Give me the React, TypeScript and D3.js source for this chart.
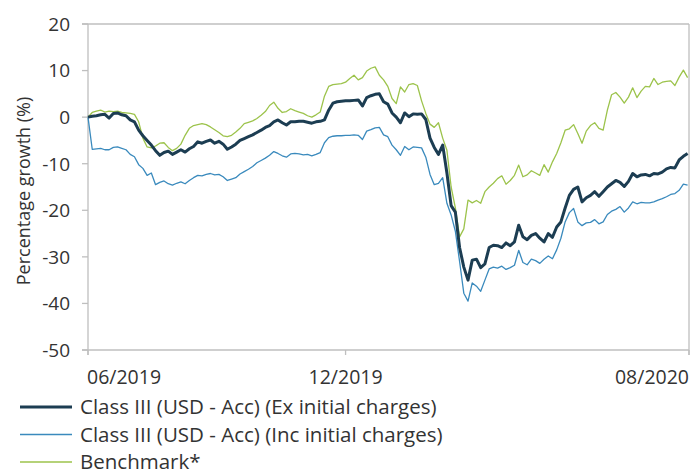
import React from "react";
import * as d3 from "d3";

// Sampling: one value every 3 days starting 1 Jun 2019
const START = new Date(2019, 5, 1);
const END = new Date(2020, 7, 1);
const STEP_DAYS = 3;

const exCharges: number[] = [
  0, 0.2, 0.3, 0.5, 0.6, -0.2, 0.8, 0.9, 0.5, 0.3,
  -0.6, -1.0, -2.8, -4.0, -5.0, -6.0, -7.2, -8.2, -7.6, -7.3,
  -8.0, -7.5, -7.0, -7.5, -6.8, -6.3, -5.3, -5.6, -5.2, -4.9,
  -5.6, -5.2, -5.8, -6.9, -6.4, -5.8, -5.0, -4.6, -4.2, -3.8,
  -3.3, -2.8, -2.2, -1.8, -1.0, -0.6, -1.2, -1.7, -1.0, -1.0,
  -0.9, -0.9, -1.1, -1.3, -1.0, -0.9, -0.6, 1.5, 3.0, 3.3,
  3.4, 3.5, 3.5, 3.6, 3.7, 2.4, 4.2, 4.6, 4.9, 5.0,
  3.3, 2.8, 0.9, 0.0, -1.2, 0.9, 0.1, 0.7, 0.6, 0.7,
  -0.5, -4.5, -6.5, -8.0, -6.0, -12.0, -19.0, -20.4, -28.0, -32.2,
  -35.0, -30.7, -30.5, -32.3, -31.5, -28.0, -27.5, -27.6, -28.0, -27.0,
  -27.6, -26.8, -23.2, -25.7, -26.3, -25.4, -25.0, -26.0, -26.8, -25.0,
  -25.8, -23.6, -22.5, -19.5, -16.8, -15.5, -15.0, -18.2, -17.3, -16.8,
  -16.0, -17.0, -16.0, -15.0, -14.3, -13.6, -14.0, -14.9, -13.8, -12.1,
  -12.8, -12.4, -12.3, -12.6, -12.1, -12.2, -11.8, -11.1, -10.8, -10.9,
  -9.2, -8.4, -7.8,
];

const incCharges: number[] = [
  0, -6.9, -6.8, -6.7, -7.0, -7.0, -6.5, -6.4, -6.7, -7.0,
  -8.0, -8.5, -10.2, -11.0, -12.5, -12.0, -14.5, -14.0, -13.7, -14.3,
  -14.6, -14.2, -13.9, -14.3, -13.6, -13.0, -12.5, -12.6, -12.3, -12.1,
  -12.4, -12.3, -12.8, -13.6, -13.3, -13.0, -12.2, -11.7, -11.2, -10.6,
  -9.8, -9.3, -8.8, -8.2, -7.4, -7.8, -8.3, -8.6, -7.9, -7.8,
  -7.9, -8.1, -8.0, -8.3, -8.0, -7.6, -5.5, -4.4, -4.1, -4.0,
  -4.0, -3.9, -3.9, -3.8, -3.9, -4.8, -3.0, -2.7, -2.3, -2.2,
  -3.8, -4.2, -6.0, -7.0, -8.2, -6.3, -7.0, -6.4, -6.5, -6.6,
  -8.6, -12.3, -14.5, -14.2, -13.0, -18.5, -21.0, -24.5, -31.0, -37.8,
  -39.5, -35.6, -36.3, -37.4, -35.0, -32.6, -32.2, -32.4, -32.0, -32.7,
  -32.3, -31.8, -28.6, -31.2, -31.7, -30.5, -30.8, -31.4, -30.5, -29.8,
  -30.4, -28.5, -26.0, -22.5, -20.5, -19.6, -22.5, -23.3, -22.7, -22.6,
  -22.0, -22.9, -22.5, -20.9, -20.2, -19.8, -19.2, -20.4, -19.5, -18.2,
  -18.6, -18.3, -18.4, -18.4, -18.2, -17.8, -17.5, -17.1, -16.6, -16.4,
  -15.7, -14.4, -14.6,
];

const benchmark: number[] = [
  0, 1.0, 1.3, 1.5, 1.1, 1.3, 1.2, 1.3, 1.0, 0.9,
  0.8, 0.6, -1.0, -4.5, -6.4, -6.6, -6.2, -5.6, -5.5, -6.5,
  -7.2, -6.7, -5.8, -3.9, -2.4, -1.8, -1.6, -1.4, -1.6, -2.1,
  -2.7, -3.3, -4.0, -4.2, -3.9, -3.2, -2.4, -1.4, -1.1, -0.8,
  -0.3, 0.4, 1.2, 2.5, 3.2, 1.9, 1.0, 1.2, 1.8, 1.4,
  1.1, 0.8, 0.3, 0.0, 0.5, 1.1, 4.5, 6.6, 7.0, 7.1,
  7.2, 7.5, 8.3, 9.0, 8.0, 8.5, 9.9, 10.5, 10.8, 9.0,
  8.0, 6.6, 4.0, 2.9, 6.5, 5.4, 7.0, 7.2, 6.8, 3.5,
  0.8, -1.5, -2.2, -1.2, -4.5, -7.1, -15.0, -19.5, -25.7, -24.0,
  -17.8, -18.4, -17.9, -18.5, -16.0, -15.0, -14.2, -13.2, -12.6, -14.4,
  -13.6, -12.5, -10.3, -12.8, -12.4, -11.5, -12.0, -12.5, -10.2, -11.8,
  -9.6, -7.8, -5.5, -2.8, -2.5, -1.6, -3.5, -5.6, -3.0, -1.8,
  -1.2, -2.4, -2.8, 1.5, 4.8, 5.3, 4.3, 3.0, 4.3, 6.3,
  4.2, 5.6, 6.6, 6.5, 8.3, 7.0, 7.5, 7.7, 7.8, 6.8,
  8.6, 10.1, 8.5,
];

const yTicks = [20, 10, 0, -10, -20, -30, -40, -50];
const xTickDates = [new Date(2019, 5, 1), new Date(2019, 11, 1), new Date(2020, 7, 1)];
const xTickLabels = ["06/2019", "12/2019", "08/2020"];
const xTickAnchors = ["start", "middle", "end"];

const seriesNames = [
  "Class III (USD - Acc) (Ex initial charges)",
  "Class III (USD - Acc) (Inc initial charges)",
  "Benchmark*",
];
const seriesColors = ["#1c3d52", "#3a8abd", "#9cc34b"];
const seriesWidths = [3, 1.3, 1.3];
const yLabel = "Percentage growth (%)";

const W = 692;
const H = 475;
const M = { left: 88, right: 689, top: 24, bottom: 350 };
const FONT = "'Open Sans', 'Noto Sans', sans-serif";
const TEXT = "#333333";
const AXIS = "#bfbfbf";

export default function App() {
  const x = d3.scaleTime().domain([START, END]).range([M.left, M.right]);
  const y = d3.scaleLinear().domain([-50, 20]).range([M.bottom, M.top]);
  const dates = exCharges.map((_, i) => d3.timeDay.offset(START, i * STEP_DAYS));

  const line = d3
    .line<number>()
    .x((_, i) => x(dates[i]))
    .y((d) => y(d))
    .curve(d3.curveLinear);

  const data = [exCharges, incCharges, benchmark];
  const drawOrder = [2, 1, 0];

  return (
    <svg
      width={W}
      height={H}
      style={{ position: "absolute", left: 0, top: 0, background: "#fff" }}
      fontFamily={FONT}
    >
      <line x1={M.left - 6} x2={M.right} y1={M.top} y2={M.top} stroke={AXIS} strokeWidth={1.3} />
      <line x1={M.right} x2={M.right} y1={M.top} y2={M.bottom + 5} stroke={AXIS} strokeWidth={1.3} />
      <line x1={M.left} x2={M.left} y1={M.top} y2={M.bottom + 5} stroke={AXIS} strokeWidth={1.3} />
      <line x1={M.left - 6} x2={M.right} y1={M.bottom} y2={M.bottom} stroke={AXIS} strokeWidth={1.3} />

      {yTicks.map((t) => (
        <g key={t}>
          <line x1={M.left - 6} x2={M.left} y1={y(t)} y2={y(t)} stroke={AXIS} strokeWidth={1.3} />
          <text x={70} y={y(t)} dy="0.36em" textAnchor="end" fontSize={19} fill={TEXT}>
            {t}
          </text>
        </g>
      ))}

      {xTickDates.map((d, i) => (
        <g key={i}>
          <line x1={x(d)} x2={x(d)} y1={M.bottom} y2={M.bottom + 5} stroke={AXIS} strokeWidth={1.3} />
          <text
            x={x(d) + (i === 0 ? -1 : 0)}
            y={384}
            textAnchor={xTickAnchors[i] as any}
            fontSize={19.5}
            fill={TEXT}
          >
            {xTickLabels[i]}
          </text>
        </g>
      ))}

      <text
        transform={`translate(30, ${(M.top + M.bottom) / 2 + 4}) rotate(-90)`}
        textAnchor="middle"
        fontSize={18}
        fill={TEXT}
      >
        {yLabel}
      </text>

      {drawOrder.map((k) => (
        <path
          key={k}
          d={line(data[k]) || ""}
          fill="none"
          stroke={seriesColors[k]}
          strokeWidth={seriesWidths[k]}
          strokeLinejoin="round"
        />
      ))}

      {seriesNames.map((name, i) => {
        const ly = 407 + i * 27.5;
        return (
          <g key={name}>
            <line x1={20} x2={72} y1={ly} y2={ly} stroke={seriesColors[i]} strokeWidth={seriesWidths[i]} />
            <text x={80} y={ly} dy="0.36em" fontSize={20.5} fill={TEXT}>
              {name}
            </text>
          </g>
        );
      })}
    </svg>
  );
}
